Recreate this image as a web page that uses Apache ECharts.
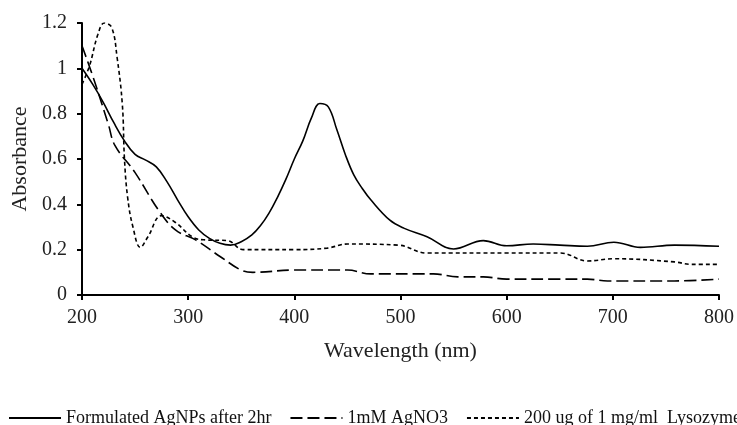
<!DOCTYPE html>
<html>
<head>
<meta charset="utf-8">
<script src="https://cdn.jsdelivr.net/npm/echarts@6/dist/echarts.min.js"></script>
<style>
  html, body { margin: 0; padding: 0; background: #fff; }
  #chart { width: 737px; height: 425px; }
</style>
</head>
<body>
<div id="chart"></div>
<script>
// wavelength (nm) / absorbance pairs
const agnpsWave = [200, 210, 220, 230, 240, 250, 260, 270, 280, 290, 300, 310, 320, 330, 340, 350, 360, 368, 376, 384, 392, 400, 408, 416, 424, 432, 440, 448, 456, 464, 472, 490, 503, 525, 550, 578, 600, 625, 650, 676, 701, 726, 758, 800];
const agnpsAbs  = [1.0, 0.93, 0.85, 0.76, 0.68, 0.62, 0.595, 0.565, 0.5, 0.42, 0.345, 0.287, 0.25, 0.228, 0.22, 0.235, 0.265, 0.305, 0.36, 0.43, 0.51, 0.6, 0.68, 0.78, 0.845, 0.83, 0.73, 0.62, 0.53, 0.47, 0.42, 0.33, 0.295, 0.257, 0.203, 0.24, 0.217, 0.225, 0.22, 0.215, 0.233, 0.21, 0.22, 0.215];

const agno3Wave = [200, 212, 225, 231, 250, 272, 288, 307, 330, 352, 361, 400, 450, 472, 531, 554, 578, 600, 642, 676, 695, 758, 800];
const agno3Abs  = [1.1, 0.94, 0.75, 0.66, 0.54, 0.375, 0.287, 0.243, 0.17, 0.106, 0.1, 0.11, 0.11, 0.093, 0.093, 0.08, 0.08, 0.07, 0.07, 0.07, 0.062, 0.062, 0.07];

const lysoWave = [200, 207, 215, 221, 228, 233, 238, 240, 243, 248, 255, 262, 275, 288, 304, 316, 337, 352, 400, 431, 450, 498, 525, 600, 651, 676, 701, 758, 774, 800];
const lysoAbs  = [0.93, 1.01, 1.15, 1.2, 1.18, 1.05, 0.84, 0.6, 0.43, 0.3, 0.21, 0.256, 0.35, 0.32, 0.256, 0.243, 0.24, 0.2, 0.2, 0.207, 0.225, 0.22, 0.185, 0.185, 0.185, 0.15, 0.16, 0.146, 0.135, 0.135];

const xTicks = [200, 300, 400, 500, 600, 700, 800];
const yTicks = [0, 0.2, 0.4, 0.6, 0.8, 1, 1.2];

const seriesNames = ['Formulated AgNPs after 2hr', '1mM AgNO3', '200 ug of 1 mg/ml  Lysozyme'];

const pairs = (xs, ys) => xs.map((x, i) => [x, ys[i]]);

const chart = echarts.init(document.getElementById('chart'));
const font = 'Liberation Serif, Times New Roman, serif';

chart.setOption({
  animation: false,
  textStyle: { fontFamily: font, color: '#000' },
  grid: { left: 82, right: 18, top: 23, bottom: 130 },
  legend: {
    left: 3,
    top: 404,
    width: 900,
    itemWidth: 52,
    itemHeight: 10,
    itemGap: 18,
    itemStyle: { opacity: 0 },
    textStyle: { fontFamily: font, fontSize: 18, color: '#111' },
    data: seriesNames
  },
  xAxis: {
    type: 'value',
    min: xTicks[0],
    max: xTicks[xTicks.length - 1],
    interval: 100,
    name: 'Wavelength (nm)',
    nameLocation: 'middle',
    nameGap: 45,
    nameTextStyle: { fontFamily: font, fontSize: 22, color: '#222' },
    axisLine: { lineStyle: { color: '#000', width: 2 } },
    axisTick: { show: true, length: 5, lineStyle: { color: '#000', width: 2 } },
    axisLabel: { fontFamily: font, fontSize: 20, color: '#222', margin: 13 },
    splitLine: { show: false }
  },
  yAxis: {
    type: 'value',
    min: yTicks[0],
    max: yTicks[yTicks.length - 1],
    interval: 0.2,
    name: 'Absorbance',
    nameLocation: 'middle',
    nameGap: 48,
    nameTextStyle: { fontFamily: font, fontSize: 22, color: '#222' },
    axisLine: { show: true, lineStyle: { color: '#000', width: 2 } },
    axisTick: { show: true, length: 5, lineStyle: { color: '#000', width: 2 } },
    axisLabel: { fontFamily: font, fontSize: 20, color: '#222', margin: 15 },
    splitLine: { show: false }
  },
  series: [
    {
      name: seriesNames[0],
      type: 'line',
      smooth: 0.4,
      symbol: 'none',
      lineStyle: { color: '#000', width: 1.6, type: 'solid' },
      itemStyle: { color: '#000' },
      data: pairs(agnpsWave, agnpsAbs)
    },
    {
      name: seriesNames[1],
      type: 'line',
      smooth: 0.4,
      symbol: 'none',
      lineStyle: { color: '#000', width: 1.6, type: [12, 5] },
      itemStyle: { color: '#000' },
      data: pairs(agno3Wave, agno3Abs)
    },
    {
      name: seriesNames[2],
      type: 'line',
      smooth: 0.4,
      symbol: 'none',
      lineStyle: { color: '#000', width: 1.6, type: [4, 3] },
      itemStyle: { color: '#000' },
      data: pairs(lysoWave, lysoAbs)
    }
  ]
});
</script>
</body>
</html>
